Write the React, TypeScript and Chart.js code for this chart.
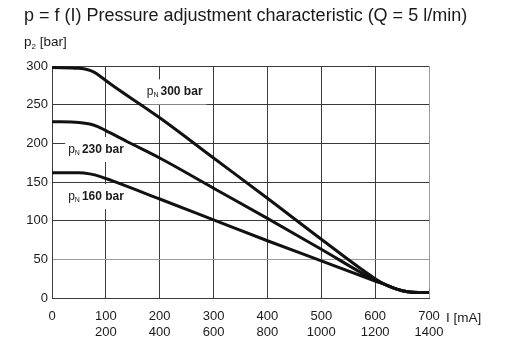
import { useEffect, useRef } from 'react';
import { Chart, registerables } from 'chart.js';

Chart.register(...registerables);

const FONT = "'Liberation Sans', Arial, sans-serif";

// Current I [mA] (second row: alternate current scale)
const xTickValues = [0, 100, 200, 300, 400, 500, 600, 700];
const xTickSecondRow = ['', '200', '400', '600', '800', '1000', '1200', '1400'];

// p_N 300 bar
const p300X = [0, 50, 65, 78, 90, 110, 200, 300, 400, 500, 600, 620, 640, 660, 680, 700];
const p300Y = [298, 297, 295.5, 292, 286.5, 276, 233, 181, 129, 76, 25, 17, 11.5, 8, 7, 7];
// p_N 230 bar
const p230X = [0, 50, 70, 85, 100, 140, 200, 300, 400, 500, 600, 620, 640, 660, 680, 700];
const p230Y = [228, 227, 225, 221.5, 216.5, 202, 181, 142, 103, 63, 23, 17, 11.5, 8, 7, 7];
// p_N 160 bar
const p160X = [0, 50, 70, 90, 110, 200, 300, 400, 500, 600, 620, 640, 660, 680, 700];
const p160Y = [162, 162, 160.5, 157, 152, 128, 101, 74, 48, 22, 17, 11.5, 8, 7, 7];

const seriesNames = ['300 bar', '230 bar', '160 bar'];

const titleText = 'p = f (I) Pressure adjustment characteristic (Q = 5 l/min)';
const yTitleMain = 'p';
const yTitleSub = '2';
const yTitleRest = ' [bar]';
const xUnitText = 'I [mA]';

// label anchors in data units (I, p)
const labelAnchors = [
  { x: 176, y: 262 },
  { x: 30, y: 187.5 },
  { x: 30, y: 126.5 },
];

const toPoints = (xs: number[], ys: number[]) => xs.map((x, i) => ({ x, y: ys[i] }));

const overlayPlugin = {
  id: 'overlay',
  beforeDatasetsDraw(chart: any) {
    const { ctx } = chart;
    const xs = chart.scales.x;
    const ys = chart.scales.y;
    ctx.save();
    ctx.textBaseline = 'alphabetic';
    ctx.textAlign = 'left';
    seriesNames.forEach((name, i) => {
      const px = xs.getPixelForValue(labelAnchors[i].x);
      const py = ys.getPixelForValue(labelAnchors[i].y);
      ctx.font = `12px ${FONT}`;
      const wP = ctx.measureText('p').width;
      ctx.font = `7px ${FONT}`;
      const wN = ctx.measureText('N').width;
      ctx.font = `bold 12px ${FONT}`;
      const wT = ctx.measureText(name).width;
      const total = wP + wN + 2 + wT;
      ctx.fillStyle = '#ffffff';
      ctx.fillRect(px - 3, py - 16, total + 7, 25);
      ctx.fillStyle = '#1a1a1a';
      ctx.font = `12px ${FONT}`;
      ctx.fillText('p', px, py);
      ctx.font = `7px ${FONT}`;
      ctx.fillText('N', px + wP, py + 2);
      ctx.font = `bold 12px ${FONT}`;
      ctx.fillText(name, px + wP + wN + 2, py);
    });
    ctx.restore();
  },
  afterDraw(chart: any) {
    const { ctx } = chart;
    const xs = chart.scales.x;
    ctx.save();
    ctx.fillStyle = '#1a1a1a';
    ctx.textBaseline = 'alphabetic';
    ctx.textAlign = 'left';
    // title
    ctx.font = `18px ${FONT}`;
    ctx.fillText(titleText, 24, 21);
    // y-axis title
    ctx.font = `13.5px ${FONT}`;
    const wp = ctx.measureText(yTitleMain).width;
    ctx.fillText(yTitleMain, 24, 46);
    ctx.font = `8px ${FONT}`;
    const w2 = ctx.measureText(yTitleSub).width;
    ctx.fillText(yTitleSub, 24 + wp, 49);
    ctx.font = `13.5px ${FONT}`;
    ctx.fillText(yTitleRest, 24 + wp + w2, 46);
    // x-axis unit
    ctx.font = `13.5px ${FONT}`;
    ctx.fillText(xUnitText, xs.right + 17, 322);
    ctx.restore();
  },
};

export default function App() {
  const ref = useRef<HTMLCanvasElement | null>(null);
  useEffect(() => {
    if (!ref.current) return;
    const lineStyle = {
      borderColor: '#111111',
      borderWidth: 3,
      pointRadius: 0,
      fill: false,
      cubicInterpolationMode: 'monotone' as const,
    };
    const chart = new Chart(ref.current, {
      type: 'line',
      data: {
        datasets: [
          { label: 'pN 300 bar', data: toPoints(p300X, p300Y), ...lineStyle },
          { label: 'pN 230 bar', data: toPoints(p230X, p230Y), ...lineStyle },
          { label: 'pN 160 bar', data: toPoints(p160X, p160Y), ...lineStyle },
        ],
      },
      options: {
        animation: false,
        responsive: false,
        devicePixelRatio: 1,
        layout: { padding: { left: 0, top: 66, right: 81, bottom: 0 } },
        plugins: { legend: { display: false }, tooltip: { enabled: false } },
        scales: {
          x: {
            type: 'linear',
            min: 0,
            max: 700,
            afterBuildTicks: (scale: any) => {
              scale.ticks = xTickValues.map((v) => ({ value: v }));
            },
            afterFit: (scale: any) => {
              scale.height = 40;
            },
            ticks: {
              padding: 11,
              color: '#1a1a1a',
              font: { family: FONT, size: 13 },
              maxRotation: 0,
              autoSkip: false,
              callback: (v: any) => {
                const i = xTickValues.indexOf(Number(v));
                if (i <= 0) return String(v);
                return [String(v), xTickSecondRow[i]];
              },
            },
            grid: {
              drawTicks: false,
              lineWidth: 1,
              color: (c: any) => (c.tick && c.tick.value === 700 ? '#9a9a9a' : '#3a3a3a'),
            },
            border: { display: true, color: '#3a3a3a', width: 1 },
          },
          y: {
            type: 'linear',
            min: 0,
            max: 300,
            afterFit: (scale: any) => {
              scale.width = 52;
            },
            ticks: {
              stepSize: 50,
              padding: 4,
              color: '#1a1a1a',
              font: { family: FONT, size: 13 },
            },
            grid: {
              drawTicks: false,
              lineWidth: 1,
              color: (c: any) => (c.tick && c.tick.value === 50 ? '#9a9a9a' : '#3a3a3a'),
            },
            border: { display: true, color: '#3a3a3a', width: 1 },
          },
        },
      },
      plugins: [overlayPlugin],
    } as any);
    return () => chart.destroy();
  }, []);
  return (
    <canvas
      ref={ref}
      width={510}
      height={338}
      style={{ position: 'fixed', left: 0, top: 0, width: 510, height: 338, background: '#fff' }}
    />
  );
}
